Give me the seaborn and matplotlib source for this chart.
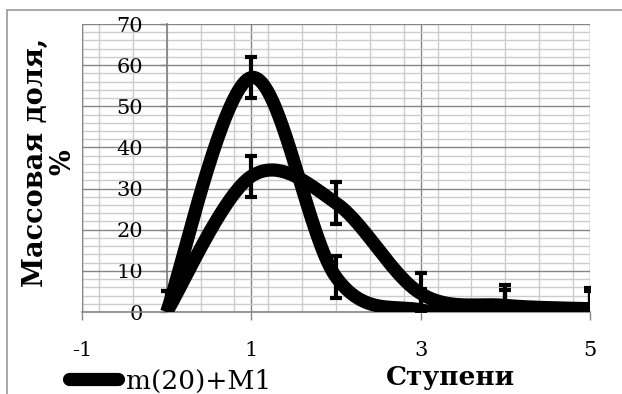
import numpy as np
import pandas as pd
import matplotlib
matplotlib.use("Agg")
import matplotlib.pyplot as plt
from matplotlib.lines import Line2D
from matplotlib.ticker import MultipleLocator
import seaborn as sns

# ---- data ----
steps = [0, 1, 2, 3, 4, 5]
series_tall = [0, 57, 8.5, 0.5, 0.3, 0.2]      # m(20)+M1
series_broad = [0, 33, 26.5, 4.5, 1.6, 0.8]
err_tall = [5, 5, 5, 5, 5, 5]
err_broad = [5, 5, 5, 5, 5, 5]
x_ticks = [-1, 1, 3, 5]
y_ticks = [0, 10, 20, 30, 40, 50, 60, 70]
legend_label = "m(20)+M1"
x_title = "Ступени"
y_title = "Массовая доля,\n%"


def smooth(xs, ys, n=40):
    """Excel-like smoothed line (Catmull-Rom as cubic Bezier)."""
    P = np.column_stack([xs, ys]).astype(float)
    P = np.vstack([P[0], P, P[-1]])
    out = []
    t = np.linspace(0, 1, n)[:, None]
    for i in range(1, len(P) - 2):
        p0, p1, p2, p3 = P[i - 1], P[i], P[i + 1], P[i + 2]
        c1 = p1 + (p2 - p0) / 6.0
        c2 = p2 - (p3 - p1) / 6.0
        seg = ((1 - t) ** 3) * p1 + 3 * ((1 - t) ** 2) * t * c1 + 3 * (1 - t) * t ** 2 * c2 + t ** 3 * p2
        out.append(seg if i == 1 else seg[1:])
    arr = np.vstack(out)
    return arr[:, 0], arr[:, 1]


sns.set_style("white")
plt.rcParams['font.family'] = ['DejaVu Serif']
plt.rcParams['axes.unicode_minus'] = False
plt.rcParams['text.color'] = 'black'
plt.rcParams['xtick.color'] = 'black'
plt.rcParams['ytick.color'] = 'black'
plt.rcParams['xtick.labelcolor'] = 'black'
plt.rcParams['ytick.labelcolor'] = 'black'

fig = plt.figure(figsize=(6.22, 3.94), dpi=100)
ax = fig.add_axes([82 / 622, 1 - 312 / 394, (590 - 82) / 622, (312 - 24) / 394])

frames = []
for name, ys in [("broad", series_broad), ("tall", series_tall)]:
    sx, sy = smooth(steps, ys)
    frames.append(pd.DataFrame({"x": sx, "y": sy, "s": name, "o": np.arange(len(sx))}))
df = pd.concat(frames, ignore_index=True)

sns.lineplot(data=df, x="x", y="y", units="s", estimator=None, sort=False,
             color="black", linewidth=9.5, ax=ax, legend=False,
             solid_capstyle="butt", zorder=3)

for ys, es in [(series_tall, err_tall), (series_broad, err_broad)]:
    ax.errorbar(steps, ys, yerr=es, fmt="none", ecolor="black",
                elinewidth=3, capsize=4.5, capthick=3, zorder=4)

ax.set_xlim(-1, 5)
ax.set_ylim(0, 70)
ax.set_xticks(x_ticks)
ax.set_yticks(y_ticks)
ax.xaxis.set_minor_locator(MultipleLocator(0.4))
ax.yaxis.set_minor_locator(MultipleLocator(2))
ax.set_axisbelow(True)
ax.grid(which="major", color="#868686", linewidth=1.0)
ax.grid(which="minor", color="#cccccc", linewidth=1.0)

for s in ["top", "right"]:
    ax.spines[s].set_visible(False)
ax.spines["left"].set_position(("data", 0))
ax.spines["left"].set_color("#7f7f7f")
ax.spines["left"].set_linewidth(1.2)
ax.spines["bottom"].set_color("#868686")
ax.spines["bottom"].set_linewidth(1.2)

ax.tick_params(axis="x", which="major", direction="out", length=6, width=1,
               color="#868686", labelcolor="black", labelsize=15, pad=15, bottom=True)
ax.tick_params(axis="y", which="major", direction="out", length=5, width=1,
               color="#868686", labelcolor="black", labelsize=15, pad=12, left=True)
ax.tick_params(which="minor", length=0)
ax.set_xlabel("")
ax.set_ylabel("")

# left plot-area border at x = -1
ax.axvline(-1, color="#868686", linewidth=1.0, zorder=1)

fig.text(450 / 622, 1 - 378 / 394, x_title, ha="center", va="center",
         fontsize=19, fontweight="bold", color="black")
fig.text(49 / 622, 1 - 162 / 394, y_title, ha="center", va="center",
         rotation=90, fontsize=19.5, fontweight="bold", multialignment="center",
         linespacing=1.05, color="black")

handle = Line2D([], [], color="black", linewidth=9.5, solid_capstyle="round")
leg = fig.legend([handle], [legend_label], loc="center left",
                 bbox_to_anchor=(69 / 622, 1 - 381 / 394), frameon=False,
                 fontsize=19, handlelength=1.85, handletextpad=0.3,
                 borderpad=0, borderaxespad=0, labelcolor="black")

# chart frame
fig.add_artist(Line2D([7 / 622, 1], [1 - 10 / 394, 1 - 10 / 394],
                      color="#9a9a9a", linewidth=1.2))
fig.add_artist(Line2D([7 / 622, 7 / 622], [0, 1 - 10 / 394],
                      color="#9a9a9a", linewidth=1.2))

fig.savefig("out.png", dpi=100)
